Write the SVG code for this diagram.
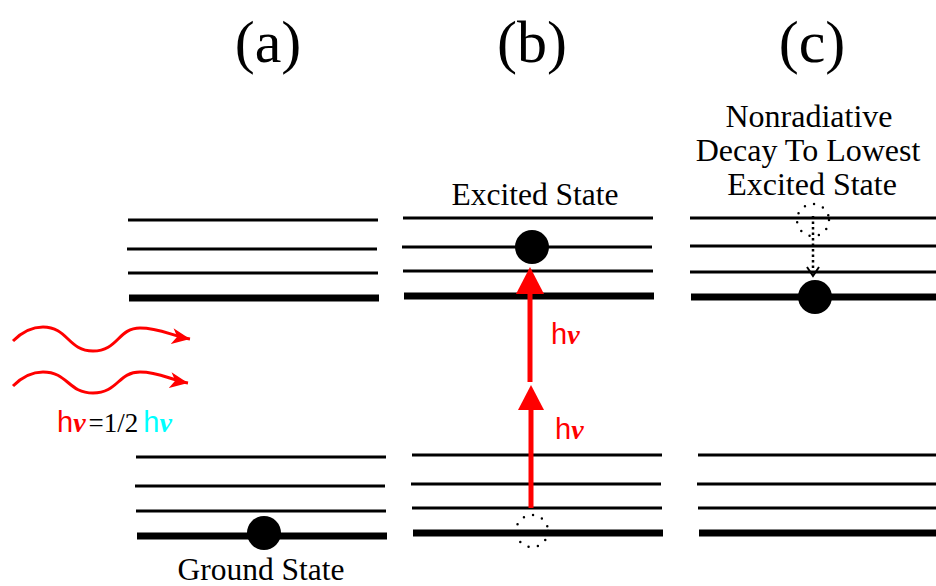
<svg xmlns="http://www.w3.org/2000/svg" width="936" height="586" viewBox="0 0 936 586">
<style>
.thin{stroke:#000;stroke-width:3;fill:none}
.thick{stroke:#000;stroke-width:7;fill:none}
.ser{font-family:"Liberation Serif","Times New Roman",serif;fill:#000}
.title{font-size:60px;text-anchor:middle}
.lbl{font-size:31.5px;text-anchor:middle}
.lblc{font-size:32px;text-anchor:middle}
.h{font-family:"Liberation Sans",Arial,sans-serif;font-size:29px}
.nu{font-family:"Liberation Serif",serif;font-style:italic;font-weight:bold;font-size:28px}
.dots{fill:none;stroke:#000;stroke-width:2.5;stroke-linecap:round;stroke-dasharray:0 9.5}
.wave{fill:none;stroke:#f00;stroke-width:3}
</style>
<defs>
<marker id="wh" markerUnits="userSpaceOnUse" markerWidth="20" markerHeight="16" refX="18" refY="8" orient="auto">
<path d="M0,0 L18,8 L0,16 L5,8 Z" fill="#f00"/>
</marker>
<marker id="dh" markerUnits="userSpaceOnUse" markerWidth="16" markerHeight="14" refX="8" refY="11" orient="0">
<path d="M2,2 L8,11 L14,2" fill="none" stroke="#000" stroke-width="2"/>
</marker>
</defs>

<g id="titles">
<text class="ser title" x="268" y="62">(a)</text>
<text class="ser title" x="532" y="62">(b)</text>
<text class="ser title" x="812" y="62">(c)</text>
</g>

<g id="a-upper">
<line class="thin" x1="128" y1="220" x2="378" y2="220"/>
<line class="thin" x1="127" y1="249" x2="377" y2="249"/>
<line class="thin" x1="128" y1="273" x2="378" y2="273"/>
<line class="thick" x1="129" y1="298" x2="379" y2="298"/>
</g>
<g id="a-lower">
<line class="thin" x1="136" y1="457" x2="386" y2="457"/>
<line class="thin" x1="135" y1="486" x2="385" y2="486"/>
<line class="thin" x1="136" y1="511" x2="386" y2="511"/>
<line class="thick" x1="137" y1="536" x2="387" y2="536"/>
<circle cx="264" cy="533" r="17" fill="#000"/>
<text class="ser lbl" x="261" y="580">Ground State</text>
</g>

<g id="photons">
<path class="wave" marker-end="url(#wh)" d="M13,341 C23,331 33,327 43,327 C68,327 68,351 93,351 C118,351 118,328 140,328 C160,328 172,336 190,339"/>
<path class="wave" marker-end="url(#wh)" d="M13,386 C23,376 33,372 43,372 C68,372 68,393 93,393 C118,393 118,372 140,372 C160,372 170,380 188,383"/>
<text x="57" y="432"><tspan class="h" fill="#f00">h</tspan><tspan class="nu" fill="#f00">ν</tspan><tspan class="ser" font-size="27" dx="3">=1/2</tspan><tspan class="h" fill="#0ff" dx="5">h</tspan><tspan class="nu" fill="#0ff">ν</tspan></text>
</g>

<g id="b-upper">
<text class="ser lbl" x="535" y="205">Excited State</text>
<line class="thin" x1="403" y1="218" x2="653" y2="218"/>
<line class="thin" x1="402" y1="247" x2="652" y2="247"/>
<line class="thin" x1="403" y1="271" x2="653" y2="271"/>
<line class="thick" x1="404" y1="296" x2="654" y2="296"/>
<circle cx="532" cy="247" r="17" fill="#000"/>
</g>
<g id="b-lower">
<line class="thin" x1="412" y1="455" x2="662" y2="455"/>
<line class="thin" x1="411" y1="484" x2="661" y2="484"/>
<line class="thin" x1="412" y1="508" x2="662" y2="508"/>
<line class="thick" x1="413" y1="533" x2="663" y2="533"/>
<circle class="dots" cx="532" cy="531" r="16"/>
</g>

<g id="c-upper">
<text class="ser lblc" x="809" y="127">Nonradiative</text>
<text class="ser lblc" x="808" y="161">Decay To Lowest</text>
<text class="ser lblc" x="812" y="195">Excited State</text>
<line class="thin" x1="690" y1="218" x2="936" y2="218"/>
<line class="thin" x1="690" y1="246" x2="936" y2="246"/>
<line class="thin" x1="690" y1="272" x2="936" y2="272"/>
<line class="thick" x1="691" y1="297" x2="936" y2="297"/>
<circle cx="815" cy="297" r="17" fill="#000"/>
<circle class="dots" cx="813" cy="220" r="16"/>
</g>
<g id="c-lower">
<line class="thin" x1="698" y1="455" x2="936" y2="455"/>
<line class="thin" x1="697" y1="484" x2="936" y2="484"/>
<line class="thin" x1="698" y1="508" x2="936" y2="508"/>
<line class="thick" x1="699" y1="533" x2="936" y2="533"/>
</g>

<g id="connectors">
<line x1="531" y1="508" x2="531" y2="405" stroke="#f00" stroke-width="5"/>
<polygon points="531,385 518,410 544,410" fill="#f00"/>
<line x1="530" y1="382" x2="530" y2="290" stroke="#f00" stroke-width="5"/>
<polygon points="530,267 516,294 544,294" fill="#f00"/>
<text x="551" y="344"><tspan class="h" fill="#f00">h</tspan><tspan class="nu" fill="#f00">ν</tspan></text>
<text x="555" y="439"><tspan class="h" fill="#f00">h</tspan><tspan class="nu" fill="#f00">ν</tspan></text>
<line x1="813" y1="216" x2="813" y2="276" stroke="#000" stroke-width="2.5" stroke-dasharray="2.5 3" marker-end="url(#dh)"/>
</g>
</svg>
